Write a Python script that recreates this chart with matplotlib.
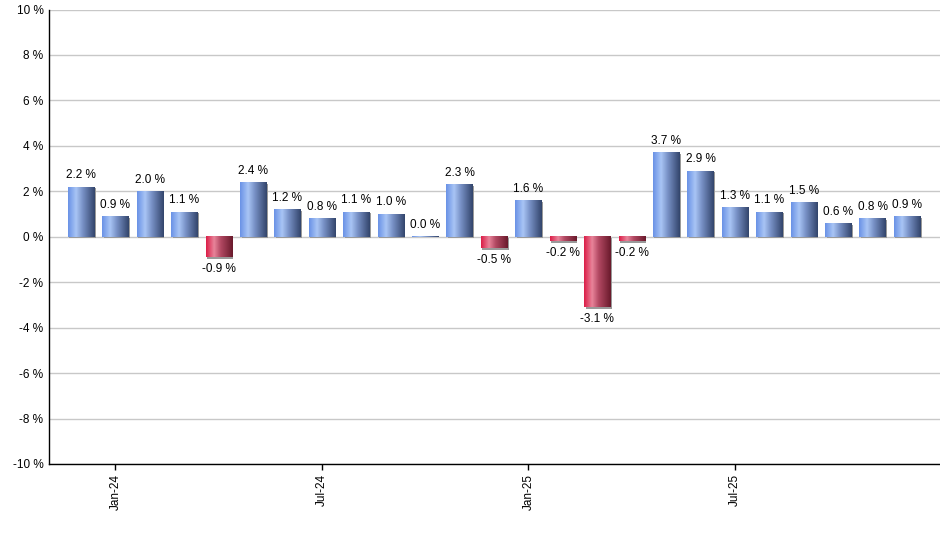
import numpy as np
import matplotlib
matplotlib.use("Agg")
import matplotlib.pyplot as plt
import matplotlib.transforms as mtransforms
from matplotlib.colors import to_rgb

months = ["Dec-23", "Jan-24", "Feb-24", "Mar-24", "Apr-24", "May-24", "Jun-24", "Jul-24",
          "Aug-24", "Sep-24", "Oct-24", "Nov-24", "Dec-24", "Jan-25", "Feb-25", "Mar-25",
          "Apr-25", "May-25", "Jun-25", "Jul-25", "Aug-25", "Sep-25", "Oct-25", "Nov-25", "Dec-25"]
values = [2.2, 0.9, 2.0, 1.1, -0.9, 2.4, 1.2, 0.8, 1.1, 1.0, 0.03, 2.3, -0.5, 1.6, -0.2,
          -3.1, -0.2, 3.7, 2.9, 1.3, 1.1, 1.5, 0.6, 0.8, 0.9]
labels = ["2.2 %", "0.9 %", "2.0 %", "1.1 %", "-0.9 %", "2.4 %", "1.2 %", "0.8 %", "1.1 %",
          "1.0 %", "0.0 %", "2.3 %", "-0.5 %", "1.6 %", "-0.2 %", "-3.1 %", "-0.2 %", "3.7 %",
          "2.9 %", "1.3 %", "1.1 %", "1.5 %", "0.6 %", "0.8 %", "0.9 %"]
xtick_labels = ["Jan-24", "Jul-24", "Jan-25", "Jul-25"]
yticks = list(range(-10, 11, 2))

plt.rcParams['font.family'] = ['Liberation Sans', 'DejaVu Sans']

fig = plt.figure(figsize=(9.4, 5.5), dpi=100)
ax = fig.add_axes([49 / 940, (550 - 464) / 550, 1 - 49 / 940, (464 - 9.5) / 550])

x = np.arange(len(values))
width = 0.76

def gradient(stops, n=64):
    pos = np.array([s[0] for s in stops])
    cols = np.array([to_rgb(s[1]) for s in stops])
    t = np.linspace(0, 1, n)
    out = np.stack([np.interp(t, pos, cols[:, i]) for i in range(3)], axis=-1)
    return out[np.newaxis, :, :]

blue_grad = gradient([(0, "#6a92e6"), (0.3, "#a9c5f5"), (0.55, "#7891c6"), (1, "#33456c")])
red_grad = gradient([(0, "#dc1e48"), (0.3, "#e8849a"), (0.55, "#b24862"), (1, "#6a1a2c")])

bars = ax.bar(x, values, width=width, color="none", edgecolor="none", zorder=3)
shadow_tf = mtransforms.offset_copy(ax.transData, fig=fig, x=1.5, y=-1.5, units="dots")
for xi, v, b in zip(x, values, bars):
    x0 = b.get_x()
    y0, y1 = min(0, v), max(0, v)
    sh = plt.Rectangle((x0, y0), width, y1 - y0, transform=shadow_tf,
                       facecolor="#9a9a9a", edgecolor="none", zorder=2)
    ax.add_patch(sh)
    grad = blue_grad if v >= 0 else red_grad
    ax.imshow(grad, extent=(x0, x0 + width, y0, y1), aspect="auto",
              interpolation="bilinear", zorder=3)

for xi, v, lab in zip(x, values, labels):
    if v >= 0:
        ax.annotate(lab, (xi, v), xytext=(0, 4), textcoords="offset points",
                    ha="center", va="bottom", fontsize=8.5, color="black", zorder=4)
    else:
        ax.annotate(lab, (xi, v), xytext=(0, -4), textcoords="offset points",
                    ha="center", va="top", fontsize=8.5, color="black", zorder=4)

ax.set_xlim(-0.93, 24.96)
ax.set_ylim(-10, 10)
ax.set_yticks(yticks)
ax.set_yticklabels([f"{t} %" for t in yticks], fontsize=8.5)
ax.set_xticks([1, 7, 13, 19])
ax.set_xticklabels(xtick_labels, rotation=90, fontsize=8.5)
ax.tick_params(axis="y", length=0, pad=4)
ax.tick_params(axis="x", length=4, width=1, direction="out", pad=3)
ax.grid(axis="y", color="#c8c8c8", linewidth=1, zorder=0)
ax.set_axisbelow(True)
for s in ["top", "right"]:
    ax.spines[s].set_visible(False)
for s in ["left", "bottom"]:
    ax.spines[s].set_color("black")
    ax.spines[s].set_linewidth(1)
    ax.spines[s].set_zorder(5)

fig.savefig("out.png", dpi=100)
